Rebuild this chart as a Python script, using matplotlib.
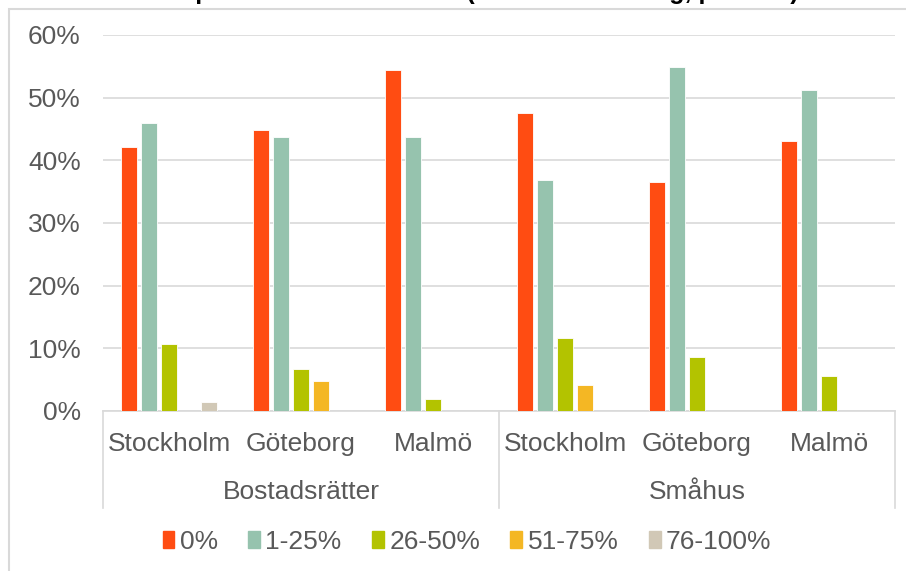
"""
Grouped bar chart: share of buyers per price band, Bostadsrätter vs Småhus,
split by city (Stockholm, Göteborg, Malmö).
"""

import matplotlib
matplotlib.use("Agg")
import matplotlib.pyplot as plt
import matplotlib.patches as mpatches
import matplotlib.transforms as mtransforms
import numpy as np

# Data (percent)
groups = ["Bostadsrätter", "Småhus"]
cities = ["Stockholm", "Göteborg", "Malmö"]
series_names = ["0%", "1-25%", "26-50%", "51-75%", "76-100%"]

# one list per series, order: BR Sthlm, BR Gbg, BR Malmö, SH Sthlm, SH Gbg, SH Malmö
share_0 = [42.1, 44.8, 54.4, 47.5, 36.5, 43.1]
share_1_25 = [45.9, 43.8, 43.8, 36.8, 54.9, 51.2]
share_26_50 = [10.7, 6.7, 1.9, 11.7, 8.6, 5.6]
share_51_75 = [0.0, 4.8, 0.0, 4.1, 0.0, 0.0]
share_76_100 = [1.5, 0.0, 0.0, 0.0, 0.0, 0.0]

y_ticks = [0, 10, 20, 30, 40, 50, 60]
y_tick_labels = ["0%", "10%", "20%", "30%", "40%", "50%", "60%"]

title = "Samlat lån som prisandel av bostaden (andel av belåning, procent)"

COLORS = ["#FF4C12", "#96C3AE", "#B3C300", "#F4B724", "#D1C8B6"]
GRID = "#D9D9D9"
TEXT = "#595959"
FONT = "Liberation Sans"
FS = 19

plt.rcParams["font.family"] = [FONT, "DejaVu Sans"]

W, H = 906, 571
fig = plt.figure(figsize=(W / 100, H / 100), dpi=100)

# plot area in pixels: x 103..895, y 35 (60%) .. 411 (0%)
ax = fig.add_axes([103 / W, 1 - 411 / H, (895 - 103) / W, (411 - 35) / H])

all_series = [share_0, share_1_25, share_26_50, share_51_75, share_76_100]
n_cat = len(groups) * len(cities)
x = np.arange(n_cat)
slot = 0.1515
bar_w = 0.121

for i, (vals, color, name) in enumerate(zip(all_series, COLORS, series_names)):
    offs = (i - 2) * slot
    ax.bar(x + offs, vals, width=bar_w, color=color, edgecolor="white",
           linewidth=0.6, label=name, zorder=3)

ax.set_xlim(-0.5, n_cat - 0.5)
ax.set_ylim(0, 60)
ax.set_yticks(y_ticks)
ax.set_yticklabels(y_tick_labels)
ax.tick_params(axis="y", length=0, pad=16, labelsize=FS, labelcolor=TEXT)
ax.set_xticks([])
ax.grid(axis="y", color=GRID, linewidth=1.2, zorder=0)

for side in ["top", "right", "left"]:
    ax.spines[side].set_visible(False)
ax.spines["bottom"].set_color(GRID)
ax.spines["bottom"].set_linewidth(1.2)

# two-level category axis
trans = mtransforms.blended_transform_factory(ax.transData, ax.transAxes)
ax_h = 411 - 35
for k in range(n_cat):
    ax.text(x[k], (411 - 444) / ax_h, cities[k % len(cities)], transform=trans,
            ha="center", va="center", fontsize=FS, color=TEXT)
for g, name in enumerate(groups):
    center = g * len(cities) + (len(cities) - 1) / 2
    ax.text(center, (411 - 492) / ax_h, name, transform=trans,
            ha="center", va="center", fontsize=FS, color=TEXT)

line_bottom = (411 - 508) / ax_h
for xs in [-0.5, 2.5, n_cat - 0.5]:
    ax.plot([xs, xs], [0, line_bottom], transform=trans, color=GRID,
            linewidth=1.2, clip_on=False)

# legend
handles = [mpatches.Patch(color=c, label=n) for c, n in zip(COLORS, series_names)]
leg = fig.legend(handles=handles, loc="center", bbox_to_anchor=(467 / W, 1 - 542 / H),
                 ncol=5, frameon=False, fontsize=FS, handlelength=0.45,
                 handleheight=0.6, handletextpad=0.2, columnspacing=1.15)
for t in leg.get_texts():
    t.set_color(TEXT)

# chart border (top and left visible, rest runs off the image)
fig.add_artist(mpatches.Rectangle((8.5 / W, -0.1), 1.2, 1.1 - 8.5 / H,
                                  transform=fig.transFigure, fill=False,
                                  edgecolor=GRID, linewidth=1.5))

# title, mostly cropped by the top edge like in the source
fig.text(5 / W, 1 + 1 / H, title, fontsize=18, fontweight="bold",
         color="black", ha="left", va="baseline")

fig.savefig("out.png", dpi=100, facecolor="white")
